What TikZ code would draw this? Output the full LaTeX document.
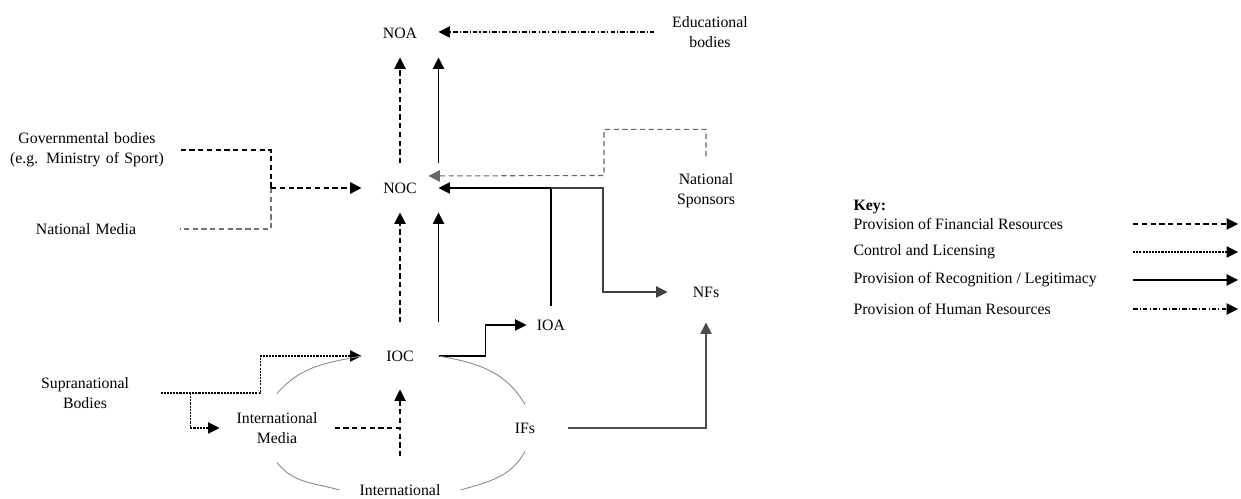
\documentclass[tikz,border=0pt]{standalone}
\usepackage{fontspec}
\setmainfont{Liberation Serif}
\usetikzlibrary{arrows.meta}
\definecolor{ringblue}{RGB}{125,138,162}
\tikzset{
  fin/.style={dash pattern=on 3pt off 2pt},
  ctl/.style={dash pattern=on 1.2pt off 0.6pt},
  rec/.style={solid},
  hum/.style={dash pattern=on 2.6pt off 1.2pt on 0.6pt off 1.2pt},
  hub/.style={minimum width=1.52cm, minimum height=0.96cm, inner sep=0pt},
  side/.style={text width=3.2cm, align=center, inner xsep=0.26cm},
  ring/.style={ringblue, line width=0.5pt},
  keytxt/.style={anchor=west, inner sep=0pt}
}
\begin{document}
\begin{tikzpicture}[x=0.02cm, y=0.02cm, font=\fontsize{9}{11.3}\selectfont,
  line width=0.6pt, >={Triangle[length=6.5pt,width=6.5pt]}]
\useasboundingbox (0,0) rectangle (1241,499);

\node[hub] (noa) at (400,466) {NOA};
\node[align=center, minimum width=2.2cm, inner sep=0pt] (edu) at (710,467) {Educational\\bodies};
\node[hub] (noc) at (400,311) {NOC};
\node[side] (gov) at (87,349) {Governmental bodies\\(e.g. Ministry of Sport)};
\node[side] (natmedia) at (86,270) {National Media};
\node[align=center, minimum height=1.36cm, inner sep=0pt] (natspons) at (706,308) {National\\Sponsors};
\node[hub, minimum height=1.32cm] (ioc) at (400,143) {IOC};
\node[minimum width=0.96cm, minimum height=0.72cm, inner sep=0pt] (ioa) at (551,174) {IOA};
\node[hub, minimum height=1.2cm] (nfs) at (706,207) {NFs};
\node[align=center, minimum width=3cm, inner sep=0pt] (supra) at (85,106) {Supranational\\Bodies};
\node[align=center, minimum width=2.28cm, minimum height=1.36cm, inner sep=0pt] (intmedia) at (277,71) {International\\Media};
\node[minimum width=1.68cm, minimum height=0.92cm, inner sep=0pt] (ifs) at (525,71) {IFs};
\node[minimum width=2.4cm, minimum height=1.32cm, inner sep=0pt] (intl) at (400,9) {International};
\coordinate (govjoin) at (271,311);

\draw[hum,->] (edu.west) -- (edu.west -| noa.east);
\draw[fin,->] (noc.north) -- (noa.south);
\draw[rec,->] (noc.north east) -- (noa.south east);

\draw[fin] (gov.east) -| (govjoin);
\draw[fin, black!55] (govjoin) |- (natmedia.east);
\draw[fin, line width=1pt, ->] (govjoin) -- (noc.west);

\draw[fin, black!60, ->] (natspons.north) -- ++(0,27) -| ++(-102,-46) -- ([shift={(-10,12)}]noc.east);
\draw[rec,->] (ioa.north) |- (noc.east);
\draw[rec, black!75, ->] (ioa.north |- noc.east) -- ++(52,0) |- (nfs.west);

\draw[fin,->] (ioc.north) -- (noc.south);
\draw[rec,->] (ioc.north east) -- (noc.south east);
\draw[rec,->] (ioc.east) -- ++(47,0) |- (ioa.west);
\draw[rec, black!70, ->] (ifs.east) -| (nfs.south);

\draw[ctl,->] (supra.east) -- ++(100,0) |- (ioc.west);
\draw[ctl,->] (supra.east) ++(30,0) |- (intmedia.west);
\draw[fin,->] (intmedia.east) -| (ioc.south);
\draw[fin] (intl.north) -- (intl.north |- intmedia.east);

\draw[ring] (intmedia.north) to[out=49,in=191] (ioc.west);
\draw[ring] (ioc.east) to[out=-10,in=120] (ifs.north);
\draw[ring] (ifs.south) to[out=-119,in=16] (intl.east);
\draw[ring] (intl.west) to[out=164,in=-52] (intmedia.south);

\node[keytxt] (key) at (853,292) {\bfseries Key:};
\foreach \st/\txt/\yy [count=\i] in {fin/Provision of Financial Resources/275,
    ctl/Control and Licensing/247, rec/{Provision of Recognition / Legitimacy}/219,
    hum/Provision of Human Resources/190}{
  \node[keytxt] (k\i) at (853,\yy) {\txt};
  \coordinate (ks\i) at (1133,\yy);
  \coordinate (ke\i) at (1238,\yy);
  \draw[\st,->] (ks\i) -- (ke\i);
}
\end{tikzpicture}
\end{document}
